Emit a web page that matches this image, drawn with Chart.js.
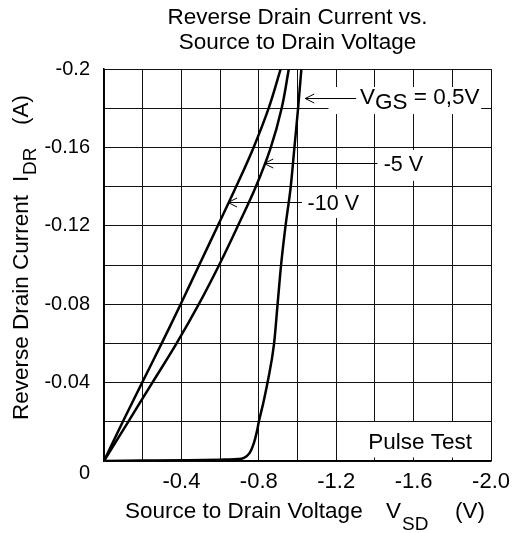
<!DOCTYPE html>
<html><head><meta charset="utf-8">
<script src="https://cdn.jsdelivr.net/npm/chart.js@4.4.1/dist/chart.umd.min.js"></script>
<style>html,body{margin:0;padding:0;background:#fff}#wrap{width:518px;height:533px}</style>
</head><body><div id="wrap"><canvas id="c" width="518" height="533"></canvas></div>
<script>
// ---- data ----
const titleLines = ['Reverse Drain Current vs.', 'Source to Drain Voltage'];

const vgs05Vsd = [0, -0.2, -0.4, -0.6, -0.69, -0.72, -0.752, -0.774, -0.79, -0.80, -0.824, -0.845, -0.879, -0.897, -0.915, -0.938, -0.965, -0.984, -1.003, -1.02];
const vgs05Idr = [0, -0.0002, -0.0004, -0.0007, -0.001, -0.0015, -0.004, -0.009, -0.015, -0.02, -0.03, -0.04, -0.06, -0.08, -0.10, -0.12, -0.14, -0.16, -0.18, -0.20];

const vgs5Vsd = [0, -0.125, -0.25, -0.375, -0.49, -0.595, -0.692, -0.785, -0.862, -0.918, -0.955];
const vgs5Idr = [0, -0.02, -0.04, -0.06, -0.08, -0.10, -0.12, -0.14, -0.16, -0.18, -0.20];

const vgs10Vsd = [0, -0.097, -0.197, -0.298, -0.396, -0.492, -0.588, -0.683, -0.773, -0.851, -0.913];
const vgs10Idr = [0, -0.02, -0.04, -0.06, -0.08, -0.10, -0.12, -0.14, -0.16, -0.18, -0.20];

const xTickValues = [-0.4, -0.8, -1.2, -1.6, -2.0];
const xTickLabels = ['-0.4', '-0.8', '-1.2', '-1.6', '-2.0'];
const yTickValues = [0, -0.04, -0.08, -0.12, -0.16, -0.2];
const yTickLabels = ['0', '-0.04', '-0.08', '-0.12', '-0.16', '-0.2'];

// ---- annotation layout (data units) ----
const FONT = '"Liberation Sans", Arial, Helvetica, sans-serif';
const notes = [
  { runs: [['V', 0], ['GS', 1], [' = 0,5V', 0]], size: 22.5, tip: [-1.040, -0.1851], lineEnd: -1.303, textX: -1.323, textY: -0.1855, box: [-1.16, -1.949, -0.1908, -0.1770] },
  { runs: [['-5 V', 0]], size: 21.5, tip: [-0.828, -0.1522], lineEnd: -1.413, textX: -1.445, textY: -0.151, box: [-1.42, -1.669, -0.1587, -0.1429] },
  { runs: [['-10 V', 0]], size: 21.5, tip: [-0.641, -0.1323], lineEnd: -1.023, textX: -1.052, textY: -0.1311, box: [-1.028, -1.328, -0.1388, -0.124] },
  { runs: [['Pulse Test', 0]], size: 22.5, tip: null, textX: -1.365, textY: -0.0093, box: [-1.349, -1.992, -0.0199, -0.0018] }
];

function pts(xs, ys) { return xs.map((v, i) => ({ x: v, y: ys[i] })); }
function near(a, b) { return Math.abs(a - b) < 1e-6; }

function drawRuns(ctx, runs, x, y, size) {
  ctx.textBaseline = 'middle';
  ctx.textAlign = 'left';
  ctx.font = size + 'px ' + FONT;
  let cx = x;
  for (const [t, sub] of runs) {
    ctx.fillText(t, cx, y + (sub ? size * 0.25 : 0));
    cx += ctx.measureText(t).width;
  }
}

const annotPlugin = {
  id: 'annot',
  beforeDatasetsDraw(chart) {
    const { ctx, scales: { x, y } } = chart;
    ctx.save();
    ctx.fillStyle = '#fff';
    for (const n of notes) {
      const x0 = x.getPixelForValue(n.box[0]), x1 = x.getPixelForValue(n.box[1]);
      const y0 = y.getPixelForValue(n.box[2]), y1 = y.getPixelForValue(n.box[3]);
      ctx.fillRect(Math.min(x0, x1), Math.min(y0, y1), Math.abs(x1 - x0), Math.abs(y1 - y0));
    }
    ctx.restore();
  },
  afterDatasetsDraw(chart) {
    const { ctx, scales: { x, y } } = chart;
    ctx.save();
    ctx.strokeStyle = '#000';
    ctx.fillStyle = '#000';
    ctx.lineWidth = 1;
    for (const n of notes) {
      if (n.tip) {
        const tx = x.getPixelForValue(n.tip[0]), ty = Math.round(y.getPixelForValue(n.tip[1])) + 0.5;
        const ex = x.getPixelForValue(n.lineEnd);
        ctx.beginPath();
        ctx.moveTo(tx, ty); ctx.lineTo(ex, ty);
        ctx.moveTo(tx + 9, ty - 4.5); ctx.lineTo(tx, ty); ctx.lineTo(tx + 9, ty + 4.5);
        ctx.stroke();
      }
      drawRuns(ctx, n.runs, x.getPixelForValue(n.textX), y.getPixelForValue(n.textY), n.size);
    }
    ctx.restore();
  },
  afterDraw(chart) {
    const { ctx } = chart;
    ctx.save();
    ctx.fillStyle = '#000';
    ctx.textBaseline = 'alphabetic';
    ctx.textAlign = 'left';
    // x-axis title
    ctx.font = '22.5px ' + FONT;
    ctx.fillText('Source to Drain Voltage', 125, 518);
    ctx.fillText('V', 386, 518);
    ctx.fillText('(V)', 455, 518);
    ctx.font = '19px ' + FONT;
    ctx.fillText('SD', 402, 530);
    // y-axis title (rotated)
    ctx.translate(28, 420);
    ctx.rotate(-Math.PI / 2);
    ctx.font = '22.5px ' + FONT;
    ctx.fillText('Reverse Drain Current', 0, 0);
    ctx.fillText('I', 238, 0);
    ctx.fillText('(A)', 295, 0);
    ctx.font = '19px ' + FONT;
    ctx.fillText('DR', 245, 8);
    ctx.restore();
  }
};

const steepStyle = { borderColor: '#000', borderWidth: 2.5, pointRadius: 0, fill: false, cubicInterpolationMode: 'monotone' };
const smoothStyle = { borderColor: '#000', borderWidth: 2.5, pointRadius: 0, fill: false, tension: 0.4 };

new Chart(document.getElementById('c'), {
  type: 'line',
  data: {
    datasets: [
      Object.assign({ label: 'VGS = 0,5V', data: pts(vgs05Vsd, vgs05Idr) }, steepStyle),
      Object.assign({ label: 'VGS = -5 V', data: pts(vgs5Vsd, vgs5Idr) }, smoothStyle),
      Object.assign({ label: 'VGS = -10 V', data: pts(vgs10Vsd, vgs10Idr) }, smoothStyle)
    ]
  },
  options: {
    responsive: false,
    animation: false,
    devicePixelRatio: 1,
    layout: { padding: { left: 0, right: 21, top: 0, bottom: 0 } },
    plugins: {
      legend: { display: false },
      tooltip: { enabled: false },
      title: {
        display: true, fullSize: false, text: titleLines, color: '#000',
        font: { family: FONT, size: 22.5, weight: 'normal', lineHeight: 1.12 },
        padding: { top: 5, bottom: 13.6 }
      }
    },
    scales: {
      x: {
        type: 'linear', min: -2, max: 0, reverse: true,
        afterFit(s) { s.height = 72; },
        grid: { color: '#111', lineWidth: 1, drawTicks: false },
        border: { color: '#000', width: 1.5 },
        ticks: {
          stepSize: 0.2, autoSkip: false, maxRotation: 0, padding: 8, color: '#000',
          font: { family: FONT, size: 22 },
          callback(v) { const i = xTickValues.findIndex(t => near(t, v)); return i >= 0 ? xTickLabels[i] : ''; }
        }
      },
      y: {
        type: 'linear', min: -0.2, max: 0, reverse: true,
        afterFit(s) { s.width = 104; },
        grid: { color: '#111', lineWidth: 1, drawTicks: false },
        border: { color: '#000', width: 1.5 },
        ticks: {
          stepSize: 0.02, autoSkip: false, padding: 14, color: '#000',
          font: { family: FONT, size: 20 },
          callback(v) {
            const i = yTickValues.findIndex(t => near(t, v));
            if (i < 0) return '';
            return i === 0 ? ['', yTickLabels[0]] : yTickLabels[i];
          }
        }
      }
    }
  },
  plugins: [annotPlugin]
});
</script>
</body></html>
